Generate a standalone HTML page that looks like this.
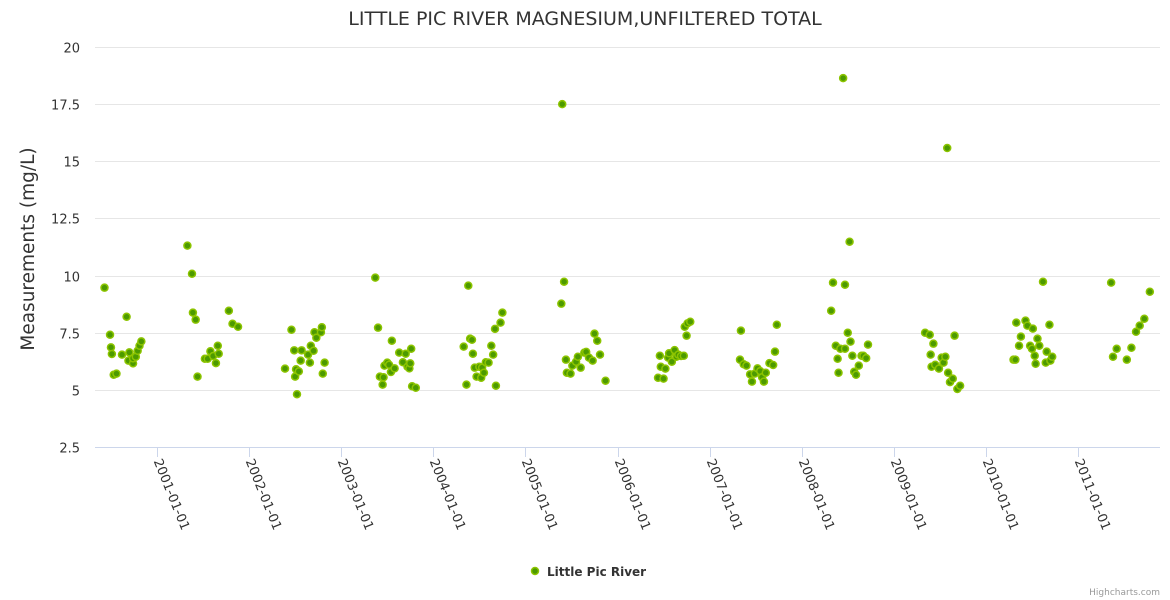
<!DOCTYPE html>
<html><head><meta charset="utf-8"><style>
body{margin:0;background:#fff;}
svg{display:block;font-family:"DejaVu Sans","Liberation Sans",sans-serif;}
</style></head><body>
<svg id="chart" width="1170" height="600">
<text x="585" y="25" text-anchor="middle" font-size="19" fill="#333">LITTLE PIC RIVER MAGNESIUM,UNFILTERED TOTAL</text>
<g id="grid"></g><g id="yt"></g><g id="xt"></g><g id="pts"></g>
<text transform="translate(34,249) rotate(-90)" text-anchor="middle" font-size="18.5" fill="#333">Measurements (mg/L)</text>
<g>
<circle cx="535" cy="571" r="3.5" fill="#4c9a00" stroke="#8cc400" stroke-width="1.5"/>
<text x="547" y="576" font-size="12" font-weight="bold" fill="#333">Little Pic River</text></g>
<text x="1160" y="595" text-anchor="end" font-size="9" fill="#999">Highcharts.com</text>
</svg>
<script>
const yTicks=[2.5,5,7.5,10,12.5,15,17.5,20];
const yTickLabels=["2.5","5","7.5","10","12.5","15","17.5","20"];
const xTicks=[2001,2002,2003,2004,2005,2006,2007,2008,2009,2010,2011];
const xTickLabels=["2001-01-01","2002-01-01","2003-01-01","2004-01-01","2005-01-01","2006-01-01","2007-01-01","2008-01-01","2009-01-01","2010-01-01","2011-01-01"];
const dates=[2000.43,2000.49,2000.50,2000.51,2000.53,2000.56,2000.62,2000.67,2000.70,2000.69,2000.74,2000.74,2000.77,2000.79,2000.81,2000.83,
2001.33,2001.38,2001.39,2001.42,2001.44,2001.52,2001.55,2001.58,2001.61,2001.64,2001.66,2001.67,2001.78,2001.82,2001.88,
2002.39,2002.46,2002.49,2002.50,2002.51,2002.54,2002.52,2002.56,2002.57,2002.64,2002.66,2002.67,2002.70,2002.71,2002.73,2002.78,2002.79,2002.80,2002.82,
2003.37,2003.40,2003.45,2003.42,2003.46,2003.47,2003.50,2003.52,2003.55,2003.54,2003.58,2003.63,2003.67,2003.70,2003.72,2003.74,2003.75,2003.76,2003.77,2003.81,
2004.38,2004.33,2004.36,2004.40,2004.42,2004.43,2004.45,2004.47,2004.50,2004.52,2004.53,2004.55,2004.57,2004.60,2004.63,2004.65,2004.67,2004.68,2004.73,2004.75,
2005.42,2005.39,2005.40,2005.44,2005.45,2005.49,2005.51,2005.55,2005.57,2005.60,2005.64,2005.66,2005.69,2005.73,2005.75,2005.78,2005.81,2005.87,
2006.44,2006.50,2006.47,2006.52,2006.46,2006.55,2006.56,2006.59,2006.62,2006.64,2006.66,2006.69,2006.72,2006.75,2006.73,2006.76,2006.79,
2007.34,2007.33,2007.37,2007.40,2007.44,2007.46,2007.49,2007.52,2007.55,2007.57,2007.59,2007.61,2007.65,2007.69,2007.71,2007.73,
2008.32,2008.34,2008.47,2008.52,2008.50,2008.37,2008.42,2008.47,2008.53,2008.39,2008.40,2008.55,2008.62,2008.57,2008.59,2008.65,2008.67,2008.70,2008.72,2008.45,
2009.34,2009.39,2009.43,2009.40,2009.41,2009.45,2009.49,2009.52,2009.54,2009.56,2009.59,2009.61,2009.64,2009.66,2009.69,2009.72,2009.58,
2010.30,2010.32,2010.33,2010.36,2010.38,2010.43,2010.45,2010.51,2010.48,2010.50,2010.53,2010.56,2010.58,2010.54,2010.62,2010.66,2010.65,2010.69,2010.70,2010.72,
2011.36,2011.38,2011.42,2011.53,2011.58,2011.63,2011.67,2011.72,2011.78];
const values=[9.47,7.41,6.86,6.57,5.66,5.71,6.54,8.20,6.64,6.28,6.16,6.38,6.45,6.71,6.93,7.12,
11.31,10.08,8.38,8.07,5.58,6.36,6.36,6.69,6.48,6.17,6.93,6.58,8.46,7.89,7.76,
5.93,7.63,6.73,5.58,5.90,5.81,4.81,6.28,6.73,6.54,6.19,6.93,6.71,7.52,7.28,7.52,7.74,5.71,6.19,
9.91,7.72,5.23,5.58,5.55,6.06,6.19,6.10,7.15,5.78,5.94,6.63,6.21,6.58,6.01,5.94,6.16,6.80,5.16,5.09,
9.56,6.89,5.23,7.24,7.19,6.58,5.97,5.58,6.01,5.53,5.97,5.75,6.21,6.19,6.93,6.54,7.67,5.18,7.94,8.38,
9.73,8.77,17.5,6.32,5.75,5.71,6.06,6.23,6.45,5.97,6.63,6.66,6.41,6.28,7.46,7.15,6.54,5.40,
5.53,5.49,6.01,5.93,6.49,6.41,6.60,6.23,6.74,6.45,6.54,6.48,6.49,7.37,7.76,7.91,7.98,
7.59,6.32,6.12,6.06,5.68,5.36,5.71,5.94,5.82,5.55,5.36,5.75,6.17,6.09,6.67,7.85,
8.46,9.69,9.60,11.48,7.50,6.93,6.80,6.80,7.11,6.36,5.75,6.49,6.06,5.79,5.66,6.49,6.49,6.39,6.98,18.64,
7.50,7.41,7.02,6.54,6.01,6.10,5.93,6.41,6.19,6.45,5.75,5.34,5.49,7.37,5.04,5.18,15.58,
6.32,6.32,7.94,6.93,7.33,8.03,7.81,7.68,6.93,6.80,6.49,7.24,6.93,6.14,9.73,6.67,6.19,7.85,6.28,6.45,
9.69,6.45,6.80,6.32,6.84,7.54,7.81,8.11,9.29];
const NS='http://www.w3.org/2000/svg';
const L=95,R=1160,T=47,B=447;
function xs(v){return 157+(v-2001)*92.1;}
function ys(v){return B-(v-2.5)/17.5*(B-T);}
function mk(t,a,p){const e=document.createElementNS(NS,t);for(const k in a)e.setAttribute(k,a[k]);p.appendChild(e);return e;}
const grid=document.getElementById('grid'),yt=document.getElementById('yt'),xt=document.getElementById('xt'),pts=document.getElementById('pts');
yTicks.forEach((v,i)=>{
 const y=Math.round(ys(v))+0.5;
 const g=mk('line',{x1:L,x2:R,y1:y,y2:y,stroke:i==0?'#ccd6eb':'#e6e6e6','stroke-width':1},grid);
 
 
 const t=mk('text',{x:80,y:y+5,'text-anchor':'end','font-size':13,fill:'#333'},yt);
 t.textContent=yTickLabels[i];
 
 
});
xTicks.forEach((v,i)=>{
 const x=Math.round(xs(v))+0.5;
 const l=mk('line',{x1:x,x2:x,y1:B,y2:B+10,stroke:'#ccd6eb'},xt);
 
 
 const t=mk('text',{transform:`translate(${x-4},${B+14}) rotate(68)`,'font-size':13,fill:'#333'},xt);
 t.textContent=xTickLabels[i];
 
 
});
dates.forEach((d,i)=>{
 const c=mk('circle',{cx:xs(d),cy:ys(values[i]),r:3.5,fill:'#4c9a00',stroke:'#8cc400','stroke-width':1.5},pts);
 
 
});
</script>
</body></html>
